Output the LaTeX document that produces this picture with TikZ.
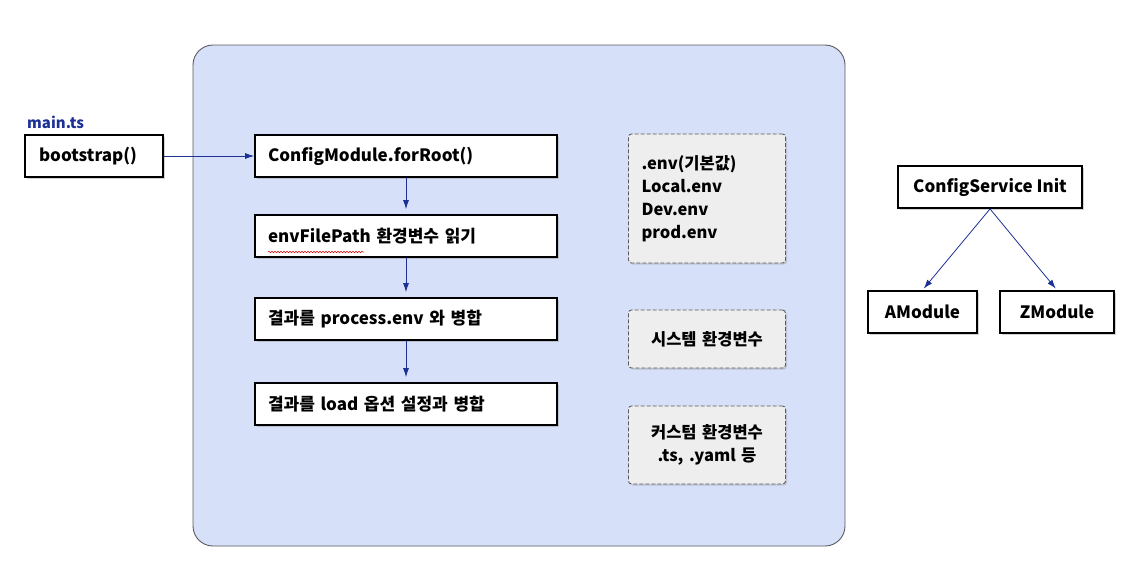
\documentclass[tikz,border=0pt]{standalone}
\usepackage{fontspec}
\setmainfont{Noto Sans CJK KR}
\usepackage{tikz}
\usetikzlibrary{arrows.meta,shadows,decorations.pathmorphing}
\definecolor{cfgblue}{RGB}{28,48,150}
\definecolor{cfgpanel}{RGB}{214,224,248}
\definecolor{cfgedge}{RGB}{90,90,95}
\definecolor{cfggray}{RGB}{238,238,238}
\tikzset{
  stepbox/.style={draw=black, line width=1.8pt, fill=white, inner ysep=0pt,
    minimum height=42pt, align=left, font=\bfseries\fontsize{17}{21}\selectfont,
    drop shadow={shadow xshift=1.5pt, shadow yshift=-1.5pt, opacity=0.35}},
  srcbox/.style={draw=cfgedge, dash pattern=on 4pt off 2pt, line width=0.9pt, fill=cfggray, rounded corners=3pt,
    minimum width=157pt, text width=131pt, inner xsep=13pt, inner ysep=0pt,
    font=\bfseries\fontsize{16.5}{23}\selectfont,
    drop shadow={shadow xshift=1.5pt, shadow yshift=-1.5pt, opacity=0.3}},
  flow/.style={-{Latex[length=9pt,width=6pt]}, cfgblue, line width=0.8pt}
}
\begin{document}
\begin{tikzpicture}[x=1pt, y=-1pt]
\useasboundingbox (0,0) rectangle (1146,584);
% Container
\node[draw=cfgedge, line width=0.9pt, fill=cfgpanel, rounded corners=20pt,
  minimum width=652pt, minimum height=501pt] (panel) at (519,295.5) {};

% main.ts
\node[anchor=west, inner sep=0pt, text=cfgblue, font=\bfseries\fontsize{15}{19}\selectfont] (mainlabel) at (27,122) {main.ts};
\node[stepbox, text width=110pt, inner xsep=14pt] (bootstrap) at (94,156) {bootstrap()};

% Load steps
\node[stepbox, text width=276pt, inner xsep=13pt] (forroot) at (406,156) {ConfigModule.forRoot()};
\node[stepbox, text width=276pt, inner xsep=13pt] (envread) at (406,236) {envFilePath 환경변수 읽기};
\node[stepbox, text width=276pt, inner xsep=13pt] (procmerge) at (406,319) {결과를 process.env 와 병합};
\node[stepbox, text width=276pt, inner xsep=13pt] (loadmerge) at (406,404) {결과를 load 옵션 설정과 병합};
\draw[red!85!black, line width=0.5pt, decorate, decoration={snake, amplitude=0.8pt, segment length=3pt}] (268,252) -- (364,252);

\draw[flow] (bootstrap) -- (forroot);
\draw[flow, shorten >=5pt] (forroot) -- (envread);
\draw[flow, shorten >=5pt] (envread) -- (procmerge);
\draw[flow, shorten >=5pt] (procmerge) -- (loadmerge);

% Env sources
\node[srcbox, minimum height=129pt, align=left] (envfiles) at (707,198.5) {.env(기본값)\\Local.env\\Dev.env\\prod.env};
\node[srcbox, minimum height=58pt, align=center] (sysenv) at (707,339) {시스템 환경변수};
\node[srcbox, minimum height=78pt, align=center] (customenv) at (707,445) {커스텀 환경변수\\.ts, .yaml 등};

% ConfigService
\node[stepbox, minimum width=184pt, align=center] (cfgsvc) at (990,187) {ConfigService Init};
\node[stepbox, minimum width=109pt, align=center] (amod) at (922.5,312) {AModule};
\node[stepbox, minimum width=114pt, align=center] (zmod) at (1057,312) {ZModule};
\draw[flow, shorten >=2pt] (cfgsvc.south) -- (amod.north);
\draw[flow, shorten >=2pt] (cfgsvc.south) -- (zmod.north);
\end{tikzpicture}
\end{document}
